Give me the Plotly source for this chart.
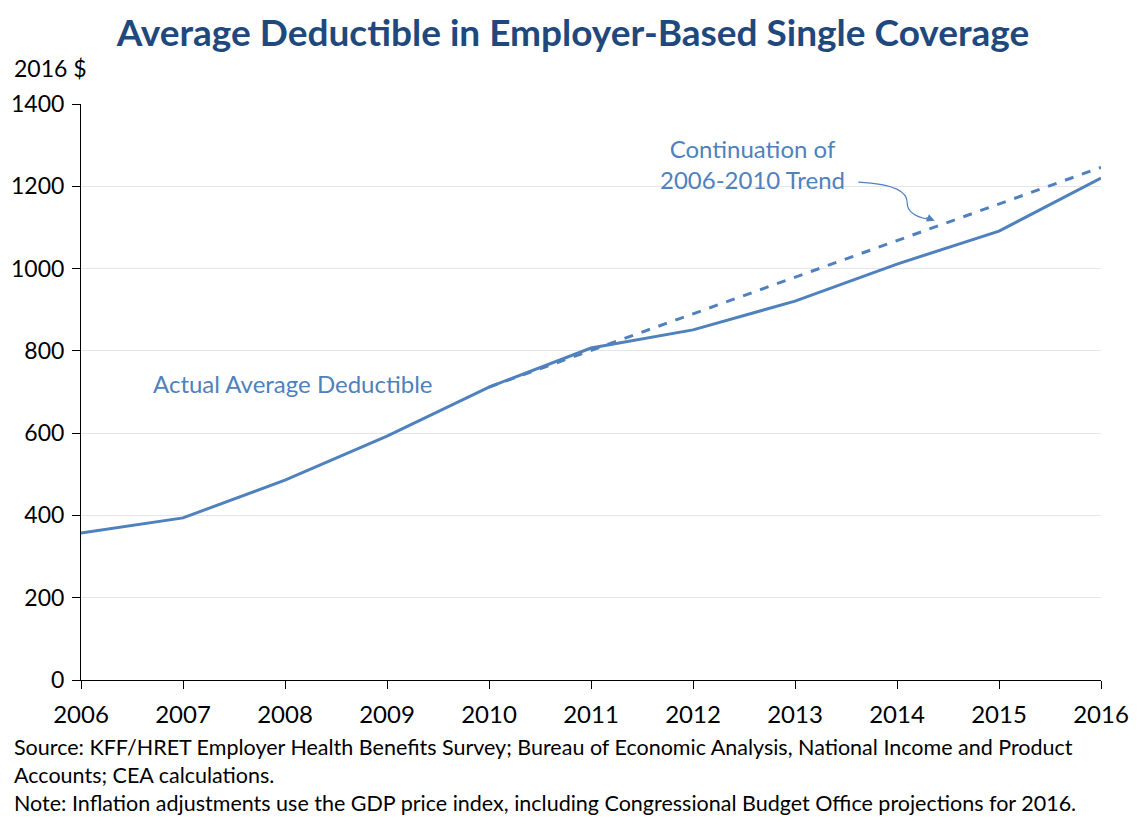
import plotly.graph_objects as go

years = [2006, 2007, 2008, 2009, 2010, 2011, 2012, 2013, 2014, 2015, 2016]
actual = [357, 394, 486, 593, 712, 807, 851, 921, 1011, 1091, 1220]
trend_years = [2010, 2011, 2012, 2013, 2014, 2015, 2016]
trend = [712, 801, 890, 979, 1068, 1157, 1246]
y_ticks = [0, 200, 400, 600, 800, 1000, 1200, 1400]

BLUE = "#4F81BD"
FONT = "Lato"

fig = go.Figure()
fig.add_trace(go.Scatter(x=trend_years, y=trend, mode="lines",
                         line=dict(color=BLUE, width=3, dash="dash"), hoverinfo="skip"))
fig.add_trace(go.Scatter(x=years, y=actual, mode="lines",
                         line=dict(color=BLUE, width=3), hoverinfo="skip"))

fig.update_layout(
    width=1130, height=818,
    margin=dict(l=73, r=37, t=96, b=146, autoexpand=False),
    paper_bgcolor="white", plot_bgcolor="white",
    showlegend=False,
    font=dict(family=FONT, color="black"),
    title=dict(text="<b>Average Deductible in Employer-Based Single Coverage</b>",
               x=0.5, xanchor="center", y=0.969, yanchor="middle",
               font=dict(family=FONT, size=37, color="#1F497D")),
    xaxis=dict(range=[2006, 2016], tickmode="array", tickvals=years,
               showline=True, linecolor="black", linewidth=1,
               ticks="outside", ticklen=8, tickcolor="black",
               showgrid=False, zeroline=False, automargin=False,
               ticklabelstandoff=5,
               tickfont=dict(size=24, color="black")),
    yaxis=dict(range=[0, 1400], tickmode="array", tickvals=y_ticks,
               showline=True, linecolor="black", linewidth=1,
               ticks="outside", ticklen=8, tickcolor="black",
               showgrid=True, gridcolor="#e6e6e6", gridwidth=1, zeroline=False,
               automargin=False, ticklabelstandoff=3,
               tickfont=dict(size=23, color="black")),
)

# curved pointer from label to trend line
fig.add_shape(type="path",
              path="M 2013.62,1210 C 2014.0,1205 2014.1,1185 2014.1,1160 C 2014.1,1135 2014.2,1125 2014.3,1120",
              xref="x", yref="y", line=dict(color=BLUE, width=1.2))
fig.add_annotation(x=2014.37, y=1116, xref="x", yref="y", text="", showarrow=True,
                   ax=-10, ay=-4, arrowhead=2, arrowsize=1.3, arrowwidth=1.2, arrowcolor=BLUE)

fig.add_annotation(x=2012.58, y=1253, xref="x", yref="y", showarrow=False,
                   text="Continuation of<br>2006-2010 Trend", align="center",
                   font=dict(family=FONT, size=24, color=BLUE))
fig.add_annotation(x=2006.69, y=720, xref="x", yref="y", showarrow=False, xanchor="left",
                   text="Actual Average Deductible",
                   font=dict(family=FONT, size=24, color=BLUE))

fig.add_annotation(x=(12 - 81) / 1020, y=(680 - 68) / 576, xref="paper", yref="paper",
                   showarrow=False, text="2016 $", xanchor="left", yanchor="middle",
                   font=dict(family=FONT, size=23, color="black"))

notes = ("Source: KFF/HRET Employer Health Benefits Survey; Bureau of Economic Analysis, National Income and Product"
         "<br>Accounts; CEA calculations."
         "<br>Note: Inflation adjustments use the GDP price index, including Congressional Budget Office projections for 2016.")
fig.add_annotation(x=(12 - 81) / 1020, y=-(732 - 680) / 576, xref="paper", yref="paper",
                   showarrow=False, text=notes, xanchor="left", yanchor="top", align="left",
                   font=dict(family=FONT, size=21.5, color="black"))

fig.write_html("out.html")
